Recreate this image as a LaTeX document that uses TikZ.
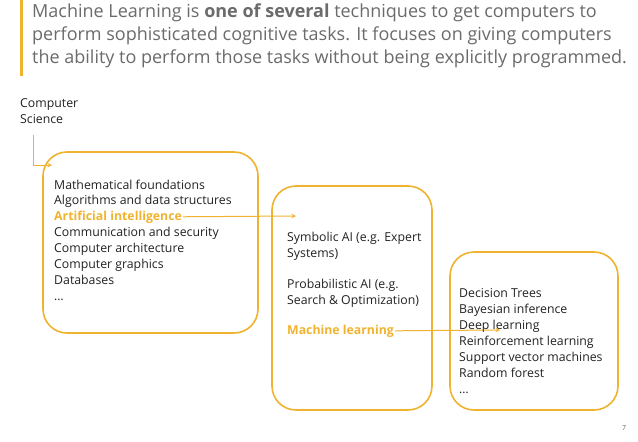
\documentclass[tikz,border=0pt]{standalone}
\usepackage{fontspec}
\setmainfont{Open Sans}
\definecolor{org}{HTML}{F0B330}
\definecolor{gtxt}{HTML}{6B6B6B}
\definecolor{btxt}{HTML}{222222}
\begin{document}
\begin{tikzpicture}[x=1pt,y=-1pt,
  box/.style={draw=org,line width=1.6pt,rounded corners=24pt},
  lbl/.style={anchor=base west,inner sep=0pt,font=\fontsize{12.3}{14}\selectfont,text=btxt},
  hl/.style={lbl,text=org,font=\fontsize{12.3}{14}\selectfont\bfseries},
  arr/.style={draw=org,line width=1pt,-stealth}]
\useasboundingbox (0,0) rectangle (638,442);
\fill[white] (0,0) rectangle (638,442);
\fill[org] (20,0) rectangle (23,76);
\node[anchor=north west,inner sep=0pt,text=gtxt,align=left,font=\fontsize{18}{23}\selectfont] (title) at (32,4)
 {Machine Learning is \textbf{one of several} techniques to get computers to\\
  perform sophisticated cognitive tasks. It focuses on giving computers\\
  the ability to perform those tasks without being explicitly programmed.};
\node[anchor=north west,inner sep=0pt,align=left,text=btxt,font=\fontsize{12.3}{16}\selectfont] (cs) at (20,98) {Computer\\Science};
\draw[box] (43,152) rectangle (258,333);
\draw[box] (272,186) rectangle (432,410);
\draw[box] (450,252) rectangle (618,410);
\coordinate (c1) at (33,135);
\coordinate (c2) at (52,165);
\draw[arr] (c1) |- (c2);
\node[lbl] at (54,189) {Mathematical foundations};
\node[lbl] at (54,204) {Algorithms and data structures};
\node[hl] (ai) at (54,220) {Artificial intelligence};
\node[lbl] at (54,236) {Communication and security};
\node[lbl] at (54,252) {Computer architecture};
\node[lbl] at (54,268) {Computer graphics};
\node[lbl] at (54,284) {Databases};
\node[lbl] at (54,300) {\dots};
\node[lbl] at (287,241) {Symbolic AI (e.g. Expert};
\node[lbl] at (287,257) {Systems)};
\node[lbl] at (287,288) {Probabilistic AI (e.g.};
\node[lbl] at (287,304) {Search \& Optimization)};
\node[hl] (ml) at (287,334) {Machine learning};
\coordinate (t1) at (296,216);
\coordinate (t2) at (500,330);
\draw[arr] ([xshift=1pt]ai.east) -- (t1);
\draw[arr] ([xshift=1pt]ml.east) -- (t2);
\node[lbl] at (459,297) {Decision Trees};
\node[lbl] at (459,313) {Bayesian inference};
\node[lbl] at (459,329) {Deep learning};
\node[lbl] at (459,345) {Reinforcement learning};
\node[lbl] at (459,361) {Support vector machines};
\node[lbl] at (459,377) {Random forest};
\node[lbl] at (459,393) {\dots};
\node[text=gtxt,font=\fontsize{7}{8}\selectfont,inner sep=0pt] (pg) at (624,428) {7};
\end{tikzpicture}
\end{document}
